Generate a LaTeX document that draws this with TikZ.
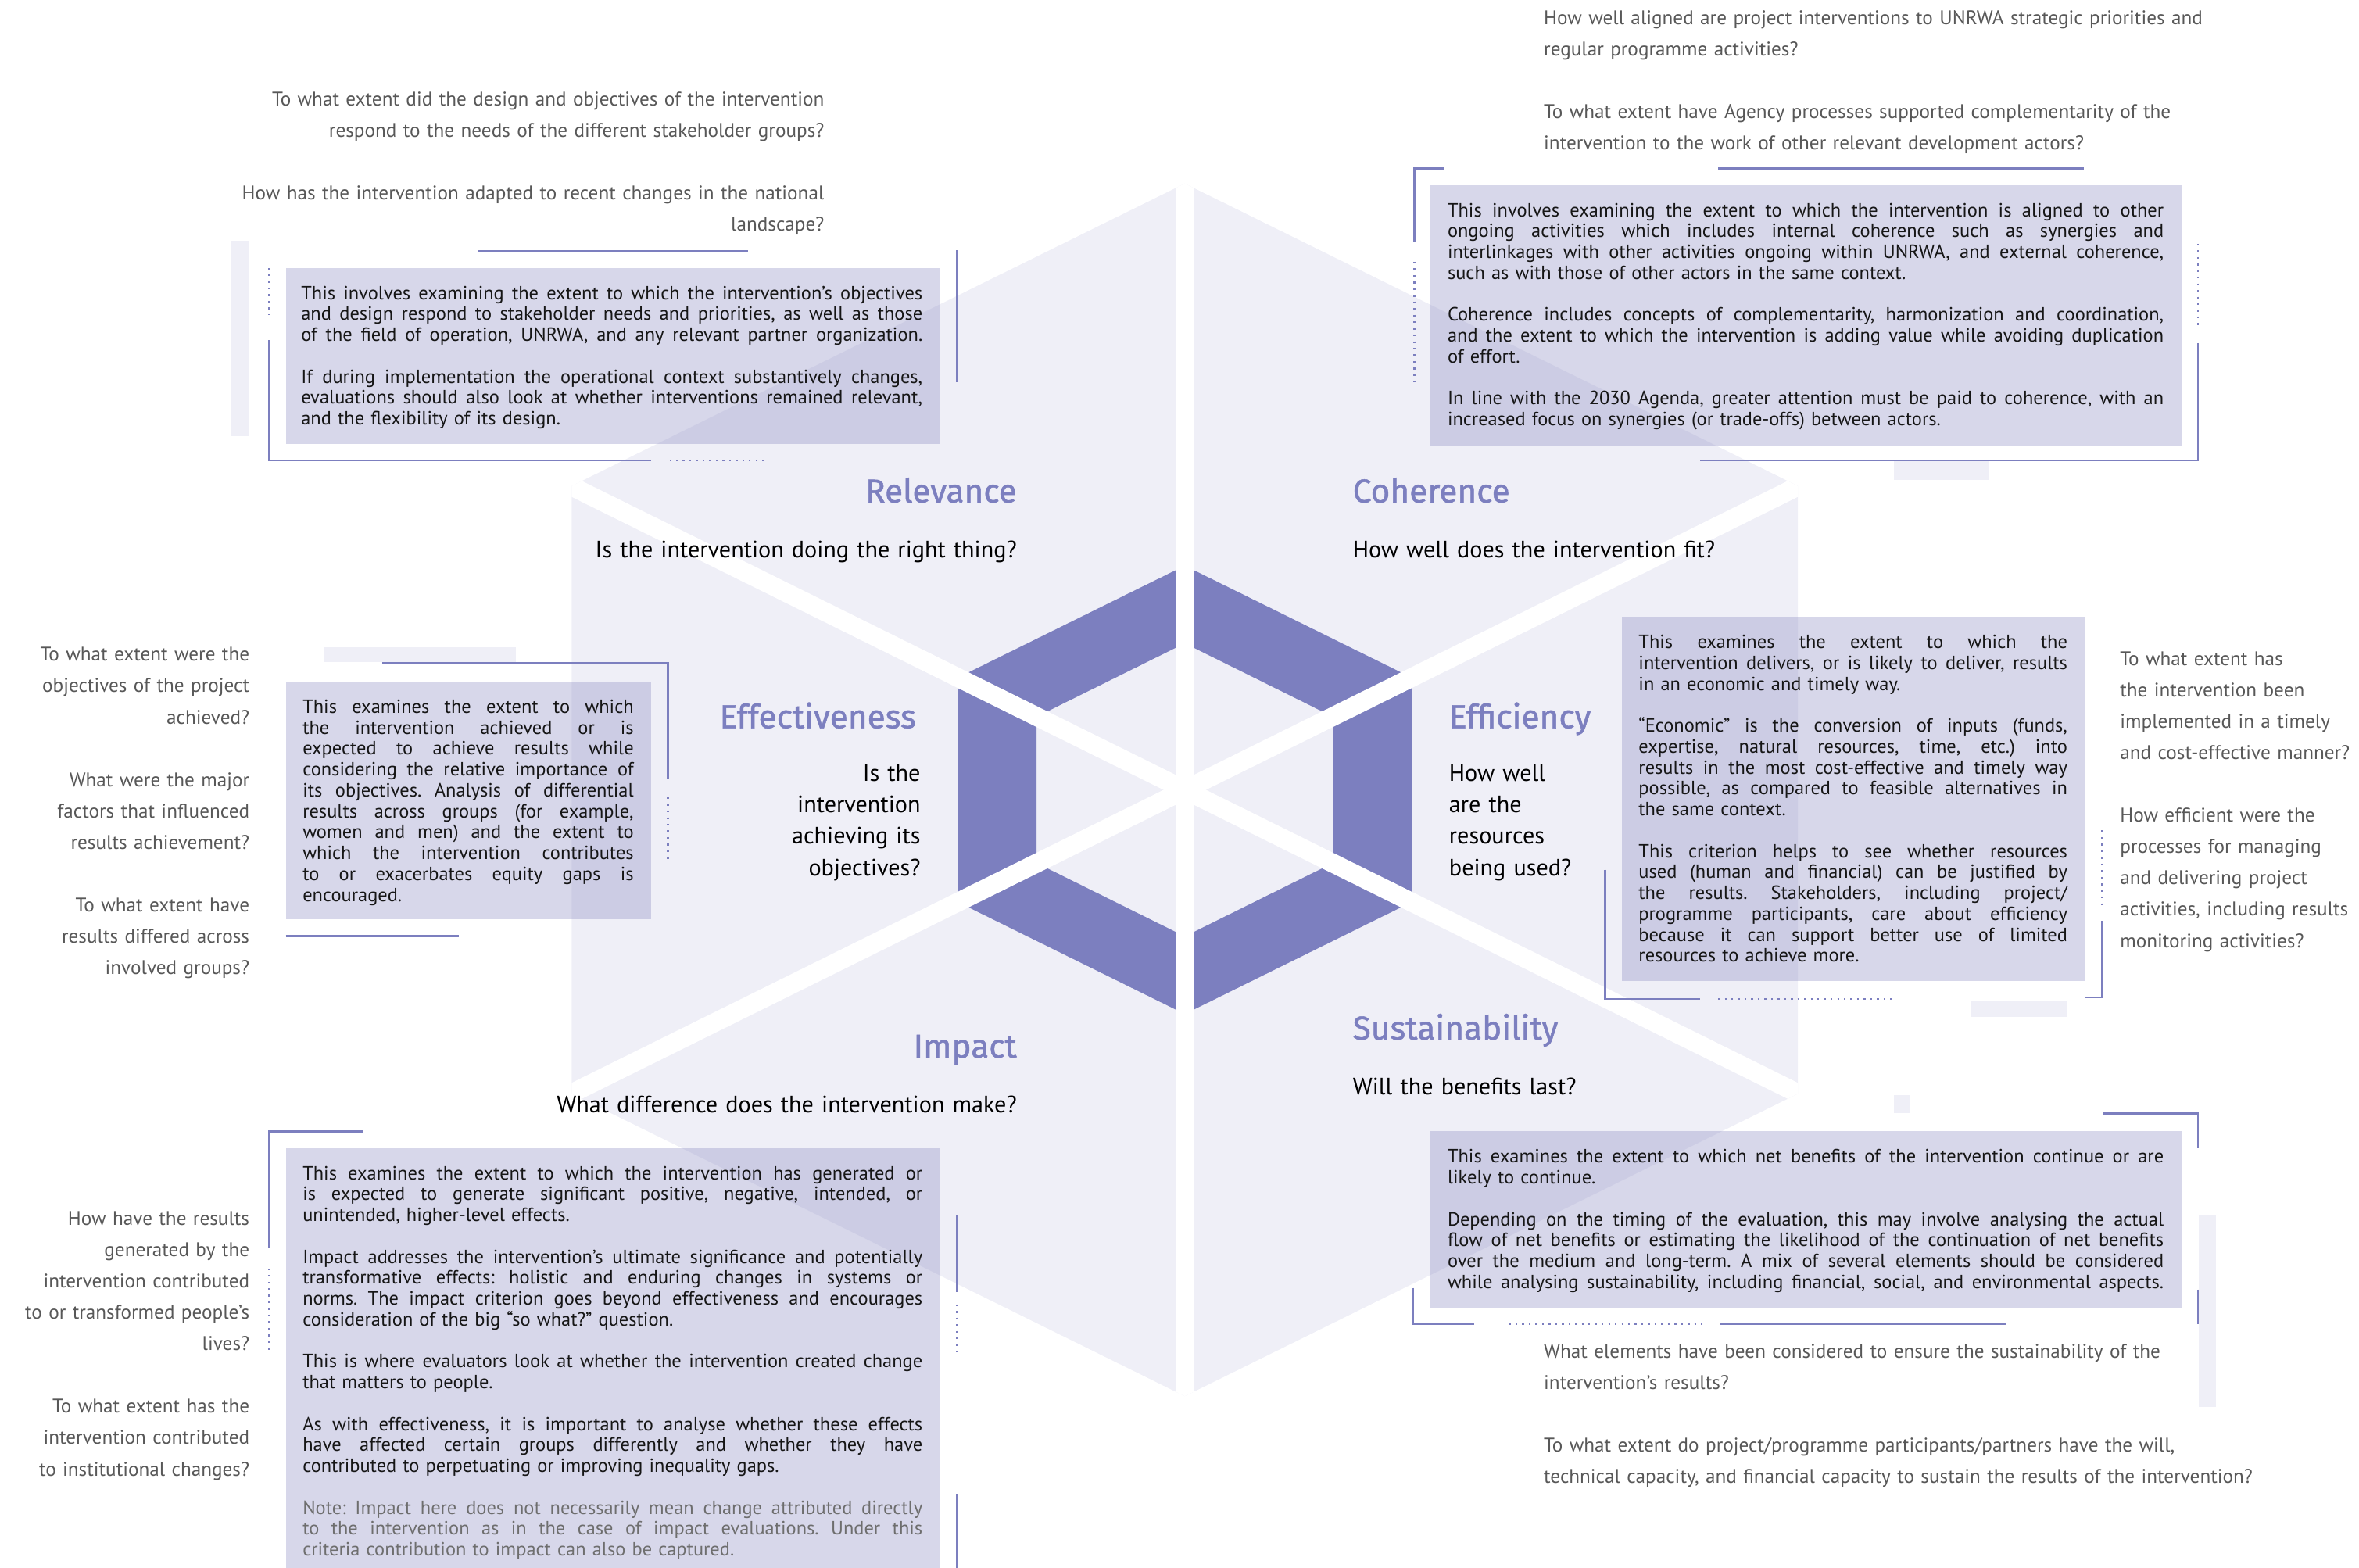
\documentclass[tikz,border=0pt]{standalone}
\usepackage{fontspec}
\usepackage{graphicx}
\setmainfont{PT Sans}
\newfontfamily\headfont{Fira Sans}[FakeBold=1.2]
\definecolor{pur}{RGB}{124,127,191}
\definecolor{boxc}{RGB}{215,215,234}
\definecolor{lightc}{RGB}{239,239,247}
\definecolor{hexc}{RGB}{130,130,193}
\definecolor{qgray}{RGB}{88,88,88}
\definecolor{notegray}{RGB}{110,110,110}
\definecolor{txt}{RGB}{22,22,22}
\newsavebox\linebx
\newcommand\JL[1]{\noindent\sbox\linebx{#1}\ifdim\wd\linebx>\linewidth\resizebox{\linewidth}{\height}{#1}\else\hbox to\linewidth{\spaceskip=0.24em plus 1fil\relax #1}\fi\par}
\newcommand\PL[1]{\noindent #1\par}
\newcommand\PG{\vspace{13.9pt}}
\tikzset{
  pline/.style={draw=pur, line width=1.4pt},
  dline/.style={draw=pur, line width=1.3pt, dash pattern=on 1.2pt off 3.2pt},
  lrect/.style={fill=lightc},
  dbox/.style={fill=boxc},
  btext/.style={inner sep=0pt, anchor=base west, font=\frenchspacing\fontsize{12.7}{13.9}\selectfont, text=txt},
  qright/.style={inner sep=0pt, anchor=base east, align=right, text width=420pt, font=\fontsize{13.1}{20.8}\selectfont, text=qgray},
  qleft/.style={inner sep=0pt, anchor=base west, align=left, text width=560pt, font=\fontsize{13.1}{20.8}\selectfont, text=qgray},
  headr/.style={inner sep=0pt, anchor=base east, font=\headfont\fontsize{22}{26}\selectfont, text=pur},
  headl/.style={inner sep=0pt, anchor=base west, font=\headfont\fontsize{22}{26}\selectfont, text=pur},
  cqr/.style={inner sep=0pt, anchor=base east, align=right, text width=320pt, font=\fontsize{15.7}{20.8}\selectfont, text=black},
  cql/.style={inner sep=0pt, anchor=base west, align=left, text width=320pt, font=\fontsize{15.7}{20.8}\selectfont, text=black},
}
\begin{document}
\begin{tikzpicture}[x=1pt,y=-1pt]
\useasboundingbox (0,0) rectangle (1568,1042.2);
% ---------- decorative light rectangles ----------
\fill[lrect] (154,160) rectangle (165,290);
\fill[lrect] (1259,306) rectangle (1322,319);
\fill[lrect] (215,430) rectangle (343,440);
\fill[lrect] (1310,665) rectangle (1374,676);
\fill[lrect] (1259,728) rectangle (1270,740);
\fill[lrect] (1461.5,808) rectangle (1473,935);
% ---------- description boxes ----------
\fill[dbox] (190,178) rectangle (625,295);
\fill[dbox] (951,123) rectangle (1450,296);
\fill[dbox] (190,453) rectangle (433,611);
\fill[dbox] (1078,410) rectangle (1386,652);
\fill[dbox] (190,763) rectangle (625,1050);
\fill[dbox] (951,752) rectangle (1450,869);
% ---------- big hexagon ----------
\fill[hexc, fill opacity=0.13] (787.5,122) -- (1195,323) -- (1195,727) -- (787.5,928) -- (380,727) -- (380,323) -- cycle;
% ---------- dark ring ----------
\fill[pur, even odd rule] (787.5,376) -- (938.5,450.5) -- (938.5,599.5) -- (787.5,674) -- (636.5,599.5) -- (636.5,450.5) -- cycle
  (787.5,427.6) -- (886,476.4) -- (886,573.6) -- (787.5,622.4) -- (689,573.6) -- (689,476.4) -- cycle;
% ---------- white gaps ----------
\begin{scope}
\clip (787.5,122) -- (1195,323) -- (1195,727) -- (787.5,928) -- (380,727) -- (380,323) -- cycle;
\draw[white, line width=12.5pt] (787.5,100) -- (787.5,950);
\draw[white, line width=12.5pt] (339,303) -- (1236,747);
\draw[white, line width=12.5pt] (1236,303) -- (339,747);
\end{scope}
% ---------- decorative lines ----------
% Relevance
\draw[pline] (318,167) -- (497,167);
\draw[pline] (636,166) -- (636,254);
\draw[dline] (179,178) -- (179,209);
\draw[pline] (179,226) -- (179,306) -- (433,306);
\draw[dline] (445,306) -- (510,306);
% Coherence
\draw[pline] (960,112) -- (940,112) -- (940,161);
\draw[pline] (1142,112) -- (1385,112);
\draw[dline] (940,174) -- (940,254);
\draw[dline] (1461,162) -- (1461,219);
\draw[pline] (1461,228) -- (1461,306) -- (1130,306);
% Effectiveness
\draw[pline] (254,441) -- (444,441) -- (444,518);
\draw[dline] (444,530) -- (444,572);
\draw[pline] (190,622) -- (305,622);
% Efficiency
\draw[pline] (1067,578) -- (1067,664) -- (1130,664);
\draw[dline] (1142,664) -- (1258,664);
\draw[pline] (1386,663) -- (1397,663) -- (1397,612);
\draw[dline] (1397,552) -- (1397,604);
% Impact
\draw[pline] (241,752) -- (179,752) -- (179,829);
\draw[dline] (179,843) -- (179,900);
\draw[pline] (636,808) -- (636,859);
\draw[dline] (636,867) -- (636,900);
\draw[pline] (636,993) -- (636,1050);
% Sustainability
\draw[pline] (1398,740) -- (1461,740) -- (1461,763);
\draw[pline] (939,856) -- (939,880) -- (980,880);
\draw[dline] (1003,880) -- (1131,880);
\draw[pline] (1143,880) -- (1333,880);
\draw[pline] (1461,857) -- (1461,880);
% ---------- headings and central questions ----------
\node[headr] (hrel) at (676,334) {Relevance};
\node[cqr] (qrel) at (676,370.5) {Is the intervention doing the right thing?};
\node[headl] (hcoh) at (899,334) {Coherence};
\node[cql] (qcoh) at (899,370.5) {How well does the intervention fit?};
\node[headr] (heff) at (609,484) {Effectiveness};
\node[cqr] (qeff) at (612,519.5) {Is the\\intervention\\achieving its\\objectives?};
\node[headl] (hefc) at (963,484) {Efficiency};
\node[cql] (qefc) at (963,519.5) {How well\\are the\\resources\\being used?};
\node[headr] (himp) at (676,703) {Impact};
\node[cqr] (qimp) at (676,739.5) {What difference does the intervention make?};
\node[headl] (hsus) at (899,691) {Sustainability};
\node[cql] (qsus) at (899,727.5) {Will the benefits last?};
% ---------- outer questions ----------
\node[qright] (orel) at (548,70.5) {To what extent did the design and objectives of the intervention\\respond to the needs of the different stakeholder groups?\\[20.8pt]How has the intervention adapted to recent changes in the national\\landscape?};
\node[qleft] (ocoh) at (1026,16.5) {How well aligned are project interventions to UNRWA strategic priorities and\\regular programme activities?\\[20.8pt]To what extent have Agency processes supported complementarity of the\\intervention to the work of other relevant development actors?};
\node[qright] (oeff) at (166,439.5) {To what extent were the\\objectives of the project\\achieved?\\[20.8pt]What were the major\\factors that influenced\\results achievement?\\[20.8pt]To what extent have\\results differed across\\involved groups?};
\node[qleft] (oefc) at (1409,442.5) {To what extent has\\the intervention been\\implemented in a timely\\and cost-effective manner?\\[20.8pt]How efficient were the\\processes for managing\\and delivering project\\activities, including results\\monitoring activities?};
\node[qright] (oimp) at (166,814.5) {How have the results\\generated by the\\intervention contributed\\to or transformed people’s\\lives?\\[20.8pt]To what extent has the\\intervention contributed\\to institutional changes?};
\node[qleft] (osus) at (1026,902.5) {What elements have been considered to ensure the sustainability of the\\intervention’s results?\\[20.8pt]To what extent do project/programme participants/partners have the will,\\technical capacity, and financial capacity to sustain the results of the intervention?};
% ---------- box texts ----------
\node[btext, text width=413pt] (trel) at (200,199) {%
\JL{This involves examining the extent to which the intervention’s objectives}
\JL{and design respond to stakeholder needs and priorities, as well as those}
\JL{of the field of operation, UNRWA, and any relevant partner organization.}
\PG
\JL{If during implementation the operational context substantively changes,}
\JL{evaluations should also look at whether interventions remained relevant,}
\PL{and the flexibility of its design.}};
\node[btext, text width=476pt] (tcoh) at (962,144) {%
\JL{This involves examining the extent to which the intervention is aligned to other}
\JL{ongoing activities which includes internal coherence such as synergies and}
\JL{interlinkages with other activities ongoing within UNRWA, and external coherence,}
\PL{such as with those of other actors in the same context.}
\PG
\JL{Coherence includes concepts of complementarity, harmonization and coordination,}
\JL{and the extent to which the intervention is adding value while avoiding duplication}
\PL{of effort.}
\PG
\JL{In line with the 2030 Agenda, greater attention must be paid to coherence, with an}
\PL{increased focus on synergies (or trade-offs) between actors.}};
\node[btext, text width=220pt] (teff) at (201,474) {%
\JL{This examines the extent to which}
\JL{the intervention achieved or is}
\JL{expected to achieve results while}
\JL{considering the relative importance of}
\JL{its objectives. Analysis of differential}
\JL{results across groups (for example,}
\JL{women and men) and the extent to}
\JL{which the intervention contributes}
\JL{to or exacerbates equity gaps is}
\PL{encouraged.}};
\node[btext, text width=285pt] (tefc) at (1089,431) {%
\JL{This examines the extent to which the}
\JL{intervention delivers, or is likely to deliver, results}
\PL{in an economic and timely way.}
\PG
\JL{“Economic” is the conversion of inputs (funds,}
\JL{expertise, natural resources, time, etc.) into}
\JL{results in the most cost-effective and timely way}
\JL{possible, as compared to feasible alternatives in}
\PL{the same context.}
\PG
\JL{This criterion helps to see whether resources}
\JL{used (human and financial) can be justified by}
\JL{the results. Stakeholders, including project/}
\JL{programme participants, care about efficiency}
\JL{because it can support better use of limited}
\PL{resources to achieve more.}};
\node[btext, text width=412pt] (timp) at (201,784) {%
\JL{This examines the extent to which the intervention has generated or}
\JL{is expected to generate significant positive, negative, intended, or}
\PL{unintended, higher-level effects.}
\PG
\JL{Impact addresses the intervention’s ultimate significance and potentially}
\JL{transformative effects: holistic and enduring changes in systems or}
\JL{norms. The impact criterion goes beyond effectiveness and encourages}
\PL{consideration of the big “so what?” question.}
\PG
\JL{This is where evaluators look at whether the intervention created change}
\PL{that matters to people.}
\PG
\JL{As with effectiveness, it is important to analyse whether these effects}
\JL{have affected certain groups differently and whether they have}
\PL{contributed to perpetuating or improving inequality gaps.}
\PG
\color{notegray}
\JL{Note: Impact here does not necessarily mean change attributed directly}
\JL{to the intervention as in the case of impact evaluations. Under this}
\PL{criteria contribution to impact can also be captured.}};
\node[btext, text width=476pt] (tsus) at (962,773) {%
\JL{This examines the extent to which net benefits of the intervention continue or are}
\PL{likely to continue.}
\PG
\JL{Depending on the timing of the evaluation, this may involve analysing the actual}
\JL{flow of net benefits or estimating the likelihood of the continuation of net benefits}
\JL{over the medium and long-term. A mix of several elements should be considered}
\JL{while analysing sustainability, including financial, social, and environmental aspects.}};
\end{tikzpicture}
\end{document}
